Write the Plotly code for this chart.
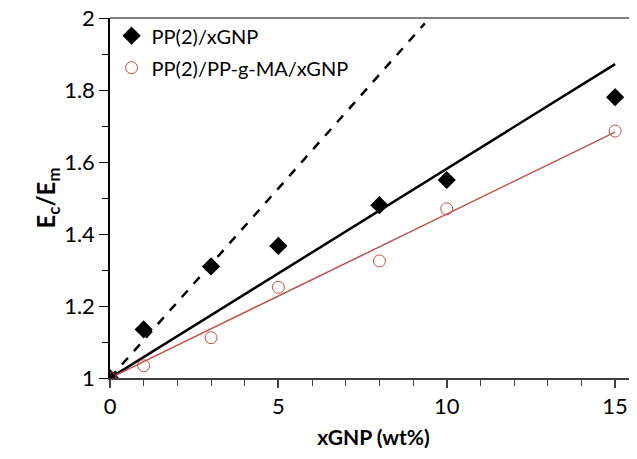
import plotly.graph_objects as go

# Data
x_gnp = [0, 1, 3, 5, 8, 10, 15]
pp_xgnp = [1.0, 1.135, 1.31, 1.367, 1.48, 1.55, 1.78]
pp_ma_xgnp = [1.0, 1.034, 1.112, 1.252, 1.325, 1.47, 1.686]

# Model / fit lines (endpoints)
fit_x = [0, 15]
fit_black = [1.0, 1.872]
fit_red = [1.0, 1.683]
dash_x = [0, 9.35]
dash_y = [1.0, 1.985]

RED = "#C0504D"
FONT = "Lato"

fig = go.Figure()

fig.add_trace(go.Scatter(x=dash_x, y=dash_y, mode="lines",
                         line=dict(color="black", width=2.5, dash="dash"),
                         showlegend=False, hoverinfo="skip"))
fig.add_trace(go.Scatter(x=fit_x, y=fit_black, mode="lines",
                         line=dict(color="black", width=2.5),
                         showlegend=False, hoverinfo="skip"))
fig.add_trace(go.Scatter(x=fit_x, y=fit_red, mode="lines",
                         line=dict(color=RED, width=1.5),
                         showlegend=False, hoverinfo="skip"))
fig.add_trace(go.Scatter(x=x_gnp, y=pp_xgnp, mode="markers", name="PP(2)/xGNP",
                         legendgroup="a",
                         marker=dict(symbol="diamond", size=14, color="black")))
fig.add_trace(go.Scatter(x=x_gnp, y=pp_ma_xgnp, mode="markers", name="PP(2)/PP-g-MA/xGNP",
                         legendgroup="b",
                         marker=dict(symbol="circle-open", size=12, color=RED,
                                     line=dict(width=1))))

# top border of plot area
fig.add_shape(type="line", xref="paper", yref="paper", x0=0, x1=1, y0=1, y1=1,
              line=dict(color="#808080", width=2))

fig.update_layout(
    width=637, height=459,
    margin=dict(l=102, r=8, t=10, b=89),
    plot_bgcolor="white", paper_bgcolor="white",
    font=dict(family=FONT, size=22, color="black"),
    legend=dict(x=0.003, y=1.005, xanchor="left", yanchor="top",
                font=dict(size=20), bgcolor="rgba(0,0,0,0)",
                itemsizing="trace", tracegroupgap=3),
    xaxis=dict(range=[0, 15.65], dtick=5, tick0=0, ticks="outside", ticklen=8,
               tickwidth=1.5, tickcolor="#404040", automargin=False,
               ticklabeloverflow="allow",
               showline=True, linecolor="#404040", linewidth=2,
               showgrid=False, zeroline=False,
               minor=dict(dtick=1, ticks="outside", ticklen=6, tickcolor="#404040", tickwidth=1),
               title=dict(text="<b>xGNP (wt%)</b>", font=dict(size=21), standoff=12)),
    yaxis=dict(range=[1, 2], dtick=0.2, tick0=1, ticks="outside", ticklen=9,
               tickwidth=1, tickcolor="black", automargin=False,
               ticklabeloverflow="allow",
               showline=True, linecolor="black", linewidth=1.5,
               showgrid=False, zeroline=False,
               minor=dict(dtick=0.1, ticks="outside", ticklen=6, tickcolor="black"),
               title=dict(text="<b>E<sub>c</sub>/E<sub>m</sub></b>", font=dict(size=24), standoff=0)),
)

fig.write_html("out.html")
